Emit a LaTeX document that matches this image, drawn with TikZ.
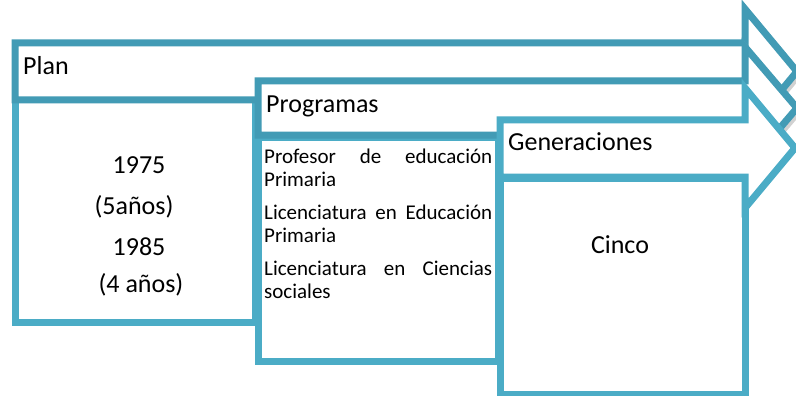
\documentclass[tikz,border=0pt]{standalone}
\usepackage{fontspec}
\setmainfont{Carlito}
\definecolor{tealdark}{RGB}{66,155,181}
\definecolor{teallight}{RGB}{75,172,198}
\begin{document}
\hyphenpenalty=10000
\exhyphenpenalty=10000
\tolerance=9999
\begin{tikzpicture}[x=1pt,y=-1pt,line join=miter,
  arrowdark/.style={draw=tealdark,line width=7pt,fill=white},
  arrowlight/.style={draw=teallight,line width=7pt,fill=white},
  boxlight/.style={draw=teallight,line width=7pt,fill=white},
  shade/.style={draw=black!18,line width=7pt},
  bigtxt/.style={inner sep=0pt,font=\fontsize{26}{30}\selectfont},
  listtxt/.style={inner sep=0pt,anchor=north west,text width=228pt,align=justify,
    font=\fontsize{21}{23}\selectfont}]
\useasboundingbox (0,0) rectangle (796,396);
% Plan box and arrow
\draw[boxlight] (15,100) rectangle (255,322);
\draw[shade] (17,46) -- (747,46) -- (747,12) -- (799,74.5) -- (747,137);
\draw[arrowdark] (15,43) -- (745,43) -- (745,9) -- (797,71.5) -- (745,134) -- (745,100) -- (15,100) -- cycle;
% Programas box and arrow
\draw[boxlight] (258,137) rectangle (498,361);
\draw[shade] (260,84) -- (747,84) -- (747,50) -- (799,111) -- (747,172);
\draw[arrowdark] (258,81) -- (745,81) -- (745,47) -- (797,108) -- (745,169) -- (745,135) -- (258,135) -- cycle;
% Generaciones box and arrow
\draw[boxlight] (500,178) rectangle (745,394);
\draw[arrowlight] (500,120) -- (745,120) -- (745,88) -- (795,148) -- (745,208) -- (745,177) -- (500,177) -- cycle;
% texts
\node[bigtxt,anchor=base west] (plan) at (23,75) {Plan};
\node[bigtxt,anchor=base west] (prog) at (266,113) {Programas};
\node[bigtxt,anchor=base west] (gen) at (508,150) {Generaciones};
\node[bigtxt,anchor=base] (a1) at (139,173) {1975};
\node[bigtxt,anchor=base] (a2) at (134,214) {(5años)};
\node[bigtxt,anchor=base] (a3) at (139,255) {1985};
\node[bigtxt,anchor=base] (a4) at (141,292) {(4 años)};
\node[bigtxt,anchor=base] (cinco) at (620,253) {Cinco};
\node[listtxt] (list) at (264,149) {Profesor de educación \mbox{Primaria}\\[10pt]
Licenciatura en Educación \mbox{Primaria}\\[10pt]
Licenciatura en Ciencias \mbox{sociales}};
\end{tikzpicture}
\end{document}
